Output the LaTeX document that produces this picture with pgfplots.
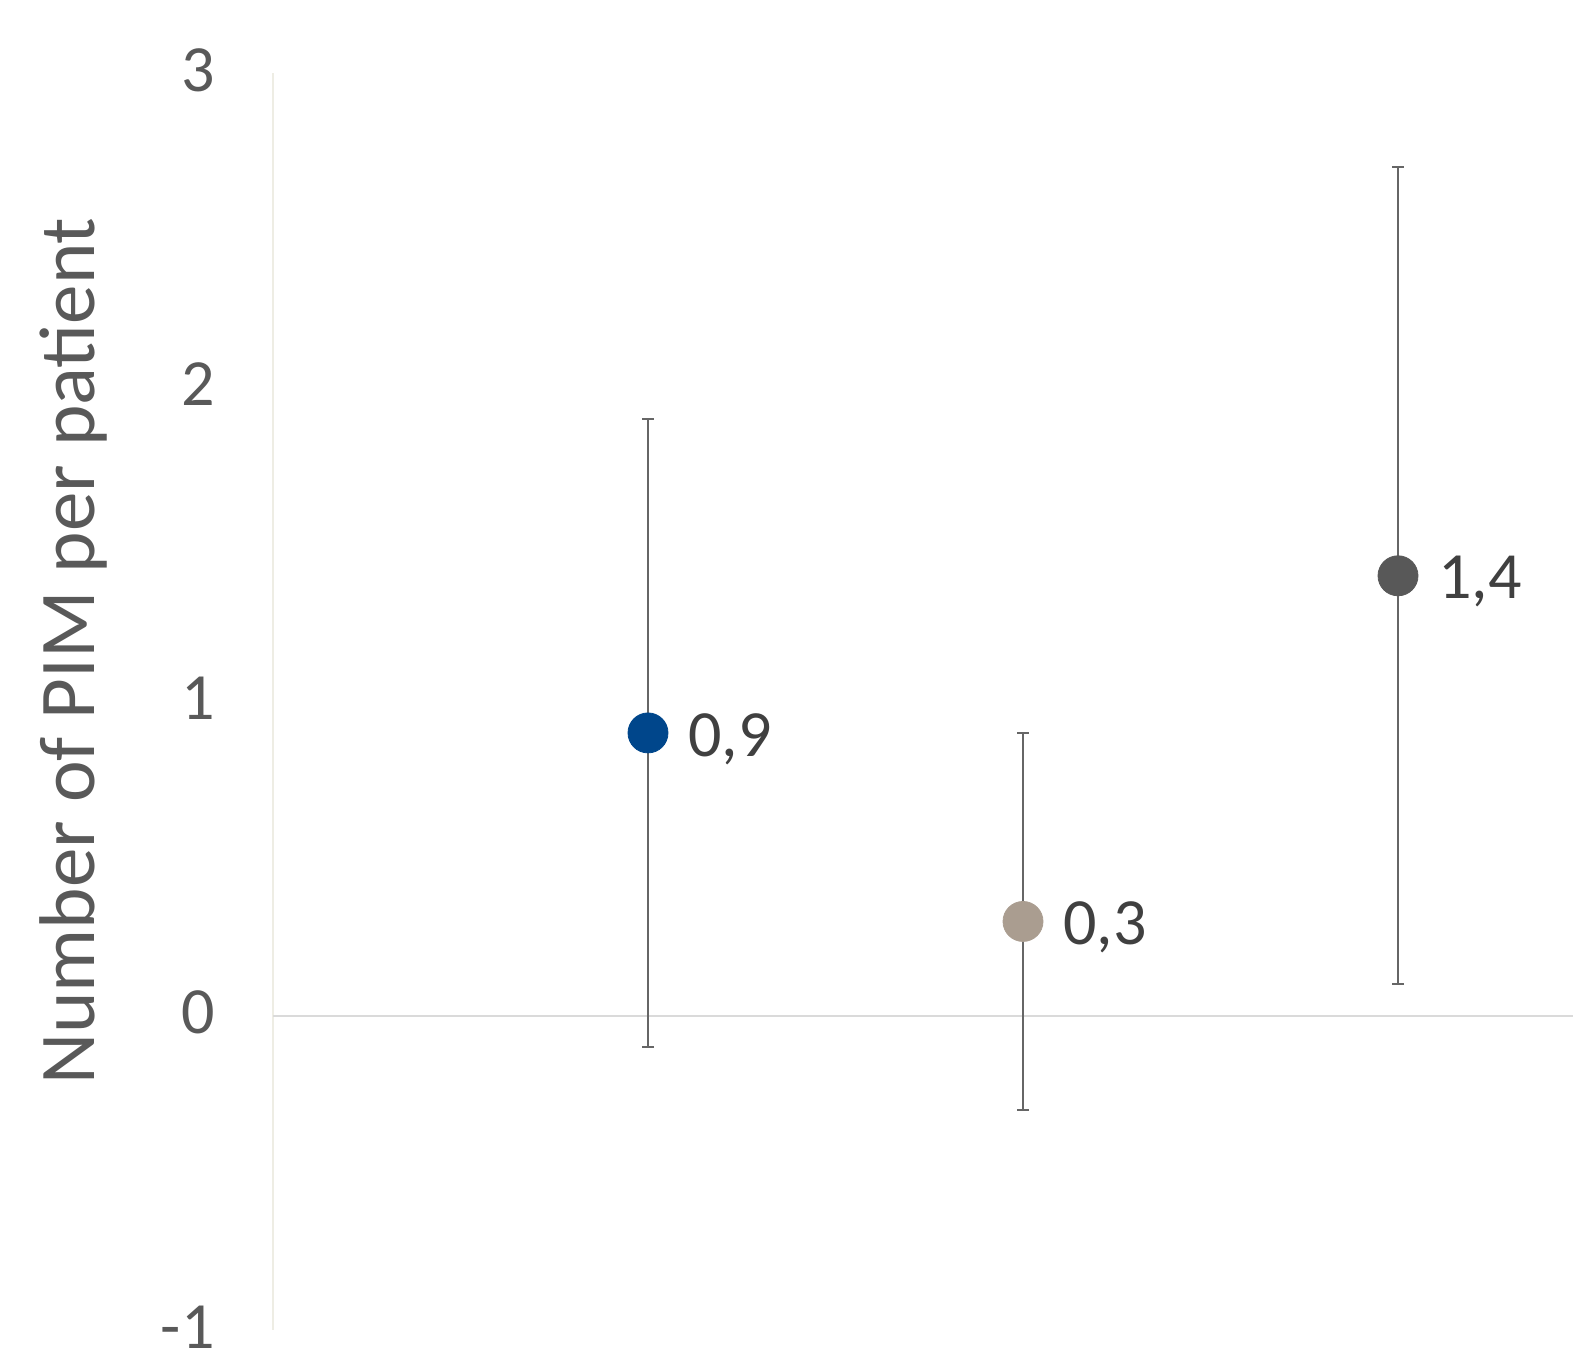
\documentclass[border=0pt]{standalone}
\usepackage{fontspec}
\setmainfont{Carlito}
\usepackage{pgfplots}
\pgfplotsset{compat=1.18}
\definecolor{tickgray}{HTML}{595959}
\definecolor{labgray}{HTML}{404040}
\definecolor{axbeige}{HTML}{EEEDE4}
\definecolor{zerogray}{HTML}{DADADA}
\definecolor{errgray}{HTML}{666666}
\definecolor{pblue}{HTML}{00468B}
\definecolor{ptan}{HTML}{AA9D90}
\definecolor{pdark}{HTML}{585858}
\begin{document}
\begin{tikzpicture}
\path[use as bounding box] (0,0) rectangle (786.5pt,679pt);
\begin{axis}[
  at={(136.5pt,14pt)}, anchor=south west,
  scale only axis, width=650pt, height=628.5pt,
  xmin=0, xmax=3.4667, ymin=-1, ymax=3,
  ytick={-1,0,1,2,3},
  xtick=\empty,
  axis lines=left,
  x axis line style={draw=none},
  y axis line style={draw=axbeige, line width=1pt, -},
  major tick length=0pt,
  /pgf/number format/assume math mode=true,
  yticklabel style={font=\fontsize{33}{40}\selectfont, text=tickgray, anchor=east, inner sep=0pt, xshift=-29pt, yshift=1.5pt},
  ylabel={Number of PIM per patient},
  ylabel style={at={(rel axis cs:0,0.54)}, anchor=center, yshift=100pt, font=\fontsize{39.5}{46}\selectfont, text=tickgray, inner sep=0pt},
  clip=false,
  point meta=y,
  nodes near coords={\pgfmathprintnumber[use comma,fixed,precision=1]{\pgfplotspointmeta}},
  nodes near coords style={anchor=west, inner sep=0pt, xshift=20pt, yshift=-3pt, font=\fontsize{33}{40}\selectfont, text=labgray},
  error bars/y dir=both, error bars/y explicit,
  error bars/error bar style={draw=errgray, line width=1pt},
  error bars/error mark options={draw=errgray, line width=1pt, mark size=3pt, rotate=90},
]
\addplot[draw=zerogray, line width=1pt, no marks, nodes near coords={}, error bars/y dir=none] coordinates {(0,0) (3.4667,0)};
\addplot[only marks, mark=*, mark size=10pt, mark options={fill=pblue, draw=pblue}] coordinates {(1,0.9) +- (0,1.0)};
\addplot[only marks, mark=*, mark size=10pt, mark options={fill=ptan, draw=ptan}] coordinates {(2,0.3) +- (0,0.6)};
\addplot[only marks, mark=*, mark size=10pt, mark options={fill=pdark, draw=pdark}] coordinates {(3,1.4) +- (0,1.3)};
\end{axis}
\end{tikzpicture}
\end{document}
